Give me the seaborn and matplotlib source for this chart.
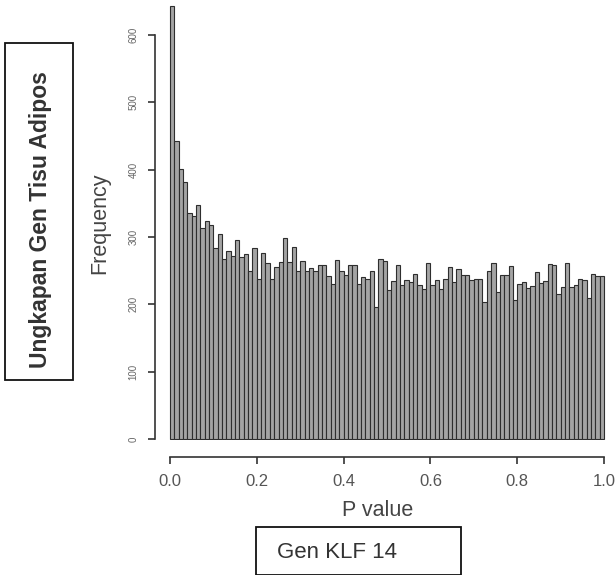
import numpy as np
import pandas as pd
import matplotlib
matplotlib.use("Agg")
import matplotlib.pyplot as plt
from matplotlib.patches import Rectangle
import seaborn as sns

# ---- data ----
counts = [643, 443, 401, 381, 336, 331, 348, 313, 324, 318,
          284, 304, 267, 279, 272, 295, 270, 275, 249, 284,
          237, 276, 261, 237, 255, 263, 298, 263, 285, 249,
          265, 249, 254, 249, 258, 258, 242, 230, 266, 250,
          243, 258, 258, 230, 240, 238, 250, 196,
          267, 264, 222, 234, 259, 229, 236, 233, 245, 228,
          223, 261, 228, 236, 223, 237, 255, 233, 252, 244,
          243, 236, 238, 238, 204, 249, 262, 218, 244, 243,
          257, 207, 230, 233, 224, 227, 248, 232, 234, 260,
          258, 216, 225, 262, 225, 229, 237, 236, 209, 245,
          242, 242]
n_bins = len(counts)
bin_edges = np.linspace(0, 1, n_bins + 1)
bin_centers = (bin_edges[:-1] + bin_edges[1:]) / 2
x_ticks = [0.0, 0.2, 0.4, 0.6, 0.8, 1.0]
x_tick_labels = ["0.0", "0.2", "0.4", "0.6", "0.8", "1.0"]
y_ticks = [0, 100, 200, 300, 400, 500, 600]
y_tick_labels = ["0", "100", "200", "300", "400", "500", "600"]

df = pd.DataFrame({"p": bin_centers, "n": counts})

sns.set_style("white")
plt.rcParams["font.family"] = ["Liberation Sans", "DejaVu Sans"]

fig = plt.figure(figsize=(6.16, 5.75), dpi=100)
ax = fig.add_axes([165 / 616, 1 - 440 / 575, 444 / 616, 440 / 575])

sns.histplot(data=df, x="p", weights="n", bins=n_bins, binrange=(0, 1), ax=ax,
             color="#a4a4a4", edgecolor="#2e2e2e", linewidth=0.8, alpha=1)

ax.set_xlim(-5 / 434, 1 + 5 / 434)
ax.set_ylim(-1.5, 652)

for s in ["top", "right"]:
    ax.spines[s].set_visible(False)
ax.spines["left"].set_position(("outward", 7.2))
ax.spines["bottom"].set_position(("outward", 12.5))
ax.spines["left"].set_bounds(0, 600)
ax.spines["bottom"].set_bounds(0, 1)
for s in ["left", "bottom"]:
    ax.spines[s].set_color("#333333")
    ax.spines[s].set_linewidth(1.2)

ax.set_xticks(x_ticks)
ax.set_xticklabels(x_tick_labels, fontsize=12, color="#555555")
ax.set_yticks(y_ticks)
ax.set_yticklabels(y_tick_labels, fontsize=7, color="#666666",
                   rotation=90, va="center")
ax.tick_params(axis="both", direction="out", length=5, width=1.2,
               color="#333333", left=True, bottom=True)
ax.tick_params(axis="y", pad=7)
ax.tick_params(axis="x", pad=7)

ax.set_xlabel("P value", fontsize=15.5, color="#444444")
ax.set_ylabel("Frequency", fontsize=15.5, color="#444444")
ax.xaxis.set_label_coords((378 - 165) / 444, (440 - 510) / 440)
ax.xaxis.label.set_va("center")
ax.yaxis.set_label_coords((100 - 165) / 444, (440 - 223) / 440)
ax.yaxis.label.set_va("center")

# left annotation box
fig.patches.append(Rectangle((5 / 616, 1 - 380 / 575), 68 / 616, 337 / 575,
                             transform=fig.transFigure, fill=False,
                             edgecolor="#111111", linewidth=1.3))
fig.text(41 / 616, 1 - 220 / 575, "Ungkapan Gen Tisu Adipos", rotation=90,
         ha="center", va="center", fontsize=16.5, fontweight="bold",
         color="#333333")

# bottom annotation box
fig.patches.append(Rectangle((256 / 616, 0), 205 / 616, 48 / 575,
                             transform=fig.transFigure, fill=False,
                             edgecolor="#111111", linewidth=1.3))
fig.text(277 / 616, 1 - 552 / 575, "Gen KLF 14", ha="left", va="center",
         fontsize=16, color="#333333")

fig.savefig("out.png", dpi=100)
